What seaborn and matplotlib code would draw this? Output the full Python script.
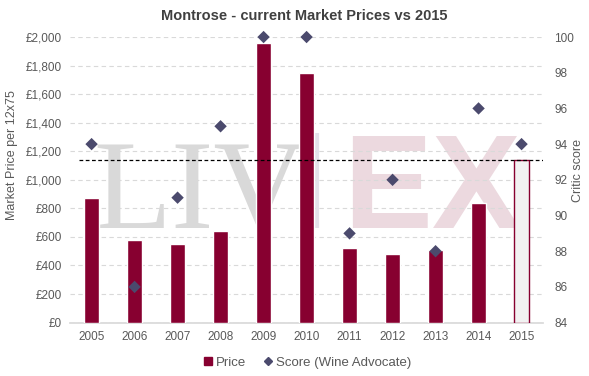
import pandas as pd
import matplotlib.pyplot as plt
import seaborn as sns
from matplotlib.lines import Line2D
from matplotlib.ticker import FuncFormatter

years = ['2005', '2006', '2007', '2008', '2009', '2010', '2011', '2012', '2013', '2014', '2015']
price = [870, 580, 550, 640, 1955, 1750, 525, 480, 510, 840, 1140]
score = [94, 86, 91, 95, 100, 100, 89, 92, 88, 96, 94]
current_price = 1140

BAR_RED = "#870030"
DIAMOND = "#4b4a6d"
TEXT = "#595959"

sns.set_theme(style="white")
plt.rcParams['font.family'] = ['Liberation Sans', 'DejaVu Sans']

df = pd.DataFrame({'Year': years, 'Price': price, 'Score': score})

fig = plt.figure(figsize=(5.89, 3.76), dpi=100)
ax = fig.add_axes([0.119, 0.142, 0.803, 0.7595])

# watermark (under the grid and bars)
ax.text(0.05, 0.33, "LIV", transform=ax.transAxes, fontsize=92, family='Liberation Serif',
        color="#d9d9d9", ha='left', va='baseline', zorder=0.2)
ax.text(0.578, 0.33, "EX", transform=ax.transAxes, fontsize=96, family='Liberation Sans',
        weight='bold', color="#ecd9df", ha='left', va='baseline', zorder=0.2)
ax.plot([0.522, 0.522], [0.33, 0.665], transform=ax.transAxes, color="#e4e1ea",
        linewidth=3, zorder=0.2, solid_capstyle='butt')

bar_colors = [BAR_RED] * (len(years) - 1) + ["#f2f2f2"]
sns.barplot(data=df, x='Year', y='Price', hue='Year', palette=bar_colors, legend=False,
            width=0.33, saturation=1, ax=ax, zorder=3)
last = ax.patches[-1]
last.set_edgecolor(BAR_RED)
last.set_linewidth(1.0)

ax.hlines(current_price, -0.3, 10.5, colors='black', linestyles=(0, (3, 2)), linewidth=0.9, zorder=4)

ax.set_ylim(0, 2000)
ax.set_xlim(-0.5, 10.5)
ax.set_yticks(range(0, 2001, 200))
ax.yaxis.set_major_formatter(FuncFormatter(lambda v, p: f"£{int(v):,}"))
ax.grid(axis='y', color="#d9d9d9", linestyle=(0, (4, 3)), linewidth=0.8)
ax.set_axisbelow(True)
ax.patch.set_alpha(0)
for s in ['top', 'left', 'right']:
    ax.spines[s].set_visible(False)
ax.spines['bottom'].set_color("#d9d9d9")
ax.tick_params(axis='both', labelsize=8.5, colors=TEXT, length=0, pad=6)
ax.set_xlabel('')
ax.set_ylabel('Market Price per 12x75', fontsize=9, color=TEXT)
ax.yaxis.set_label_coords(-0.110, 0.587)

ax2 = ax.twinx()
sns.scatterplot(data=df, x='Year', y='Score', marker='D', s=40, color=DIAMOND,
                edgecolor='none', clip_on=False, ax=ax2, zorder=5)
ax2.set_ylim(84, 100)
ax2.set_yticks(range(84, 101, 2))
for s in ['top', 'left', 'right', 'bottom']:
    ax2.spines[s].set_visible(False)
ax2.tick_params(axis='y', labelsize=8.5, colors=TEXT, length=0, pad=8)
ax2.set_ylabel('Critic score', fontsize=9, color=TEXT)
ax2.yaxis.set_label_coords(1.062, 0.534)
ax2.grid(False)

fig.suptitle('Montrose - current Market Prices vs 2015', x=0.516, y=0.975,
             fontsize=10.5, weight='bold', color="#404040")

handles = [Line2D([], [], marker='s', linestyle='none', color=BAR_RED, markersize=6),
           Line2D([], [], marker='D', linestyle='none', color=DIAMOND, markersize=4)]
fig.legend(handles, ['Price', 'Score (Wine Advocate)'], loc='center', bbox_to_anchor=(0.52, 0.035),
           ncol=2, frameon=False, fontsize=9.5, labelcolor=TEXT, handletextpad=0.1,
           columnspacing=1.2, handlelength=1.0)

fig.savefig('out.png', dpi=100)
